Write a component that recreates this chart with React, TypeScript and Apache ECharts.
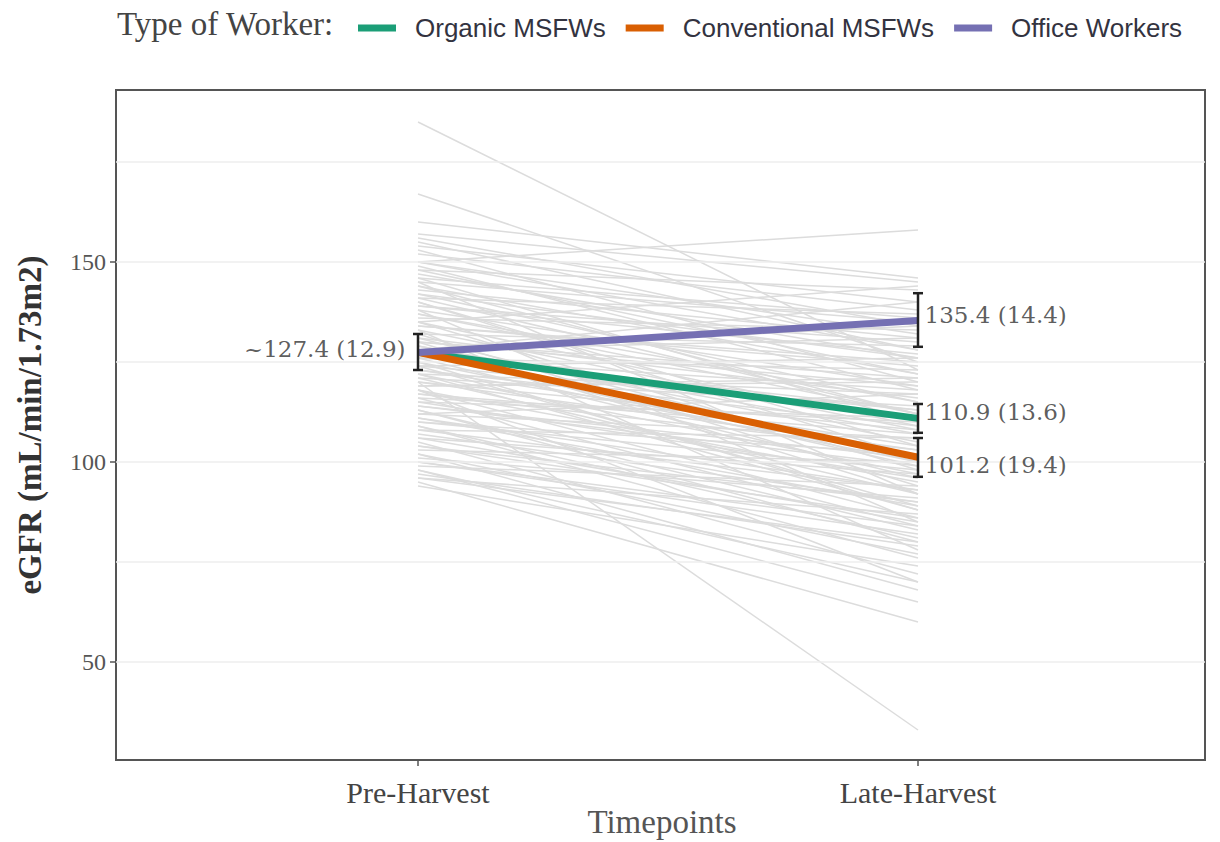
import React, { useEffect, useRef } from "react";
import * as echarts from "echarts";

const categories = ["Pre-Harvest", "Late-Harvest"];
const groupNames = ["Organic MSFWs", "Conventional MSFWs", "Office Workers"];
const groupColors = ["#1b9e77", "#d95f02", "#7570b3"];
const preMeans = [127.4, 127.4, 127.4];
const lateMeans = [110.9, 101.2, 135.4];

const errX = [1, 2, 2, 2];
const errLow = [123.0, 128.8, 107.3, 96.3];
const errHigh = [132.0, 142.2, 114.5, 106.0];

const labelX = [1, 2, 2, 2];
const labelY = [127.4, 135.4, 110.9, 101.2];
const labelText = ["~127.4 (12.9)", "135.4 (14.4)", "110.9 (13.6)", "101.2 (19.4)"];

const yTicks = [50, 100, 150];
const gridValues = [50, 75, 100, 125, 150, 175];

const subjectPre = [
  185, 167, 160, 150, 157, 156, 155, 154, 153, 152, 150, 149, 148, 147, 146, 145,
  144, 143, 142, 141, 140, 139, 138, 137, 136, 135, 134, 133, 132, 131, 130, 130,
  129, 128, 127, 126, 126, 125, 124, 123, 122, 121, 120, 120, 119, 118, 117, 116,
  115, 114, 113, 112, 111, 110, 109, 108, 107, 106, 105, 104, 103, 102, 101, 100,
  99, 98, 97, 96, 95, 94, 138, 145, 133, 128, 135, 124, 131, 118, 141, 122,
  150, 148, 146, 144, 142, 140, 139, 137, 135, 134, 132, 130, 129, 128, 127, 126,
  125, 124, 123, 122, 121, 120, 119, 118, 117, 116, 115, 114, 113, 112, 111, 110,
  109, 108, 106, 104, 102, 100, 98, 96,
];
const subjectLate = [
  123, 125, 146, 158, 145, 134, 128, 140, 120, 138, 132, 118, 143, 126, 110, 135,
  122, 131, 115, 137, 104, 127, 119, 112, 133, 98, 124, 108, 129, 116, 92, 121,
  105, 134, 113, 96, 118, 100, 126, 109, 88, 114, 33, 103, 121, 95, 107, 84,
  111, 99, 80, 117, 93, 102, 76, 106, 90, 97, 72, 86, 100, 68, 91, 82,
  94, 65, 79, 87, 60, 74, 85, 92, 78, 140, 144, 89, 100, 70, 112, 97,
  128, 122, 136, 112, 126, 101, 130, 115, 109, 125, 94, 119, 107, 131, 99, 123,
  88, 113, 104, 117, 92, 108, 120, 86, 103, 110, 96, 101, 83, 106, 89, 98,
  81, 93, 85, 90, 77, 84, 70, 80,
];

export default function App() {
  const ref = useRef<HTMLDivElement>(null);
  useEffect(() => {
    if (!ref.current) return;
    const chart = echarts.init(ref.current, undefined, { renderer: "svg" });

    const graySeries = subjectPre.map((p, i) => ({
      type: "line",
      data: [
        [1, p],
        [2, subjectLate[i]],
      ],
      symbol: "none",
      silent: true,
      z: 2,
      lineStyle: { color: "#dcdcdc", width: 1.5 },
    }));

    const mainSeries = groupNames.map((name, i) => ({
      type: "line",
      name,
      data: [
        [1, preMeans[i]],
        [2, lateMeans[i]],
      ],
      symbol: "none",
      z: 5,
      color: groupColors[i],
      lineStyle: { color: groupColors[i], width: 7 },
    }));

    const labelCfg = [
      { position: "left", distance: 12, offset: [0, -3] },
      { position: "right", distance: 6, offset: [0, -5] },
      { position: "right", distance: 6, offset: [0, -6] },
      { position: "right", distance: 6, offset: [0, 8] },
    ];

    const option: any = {
      animation: false,
      backgroundColor: "#ffffff",
      grid: {
        left: 116,
        right: 15,
        top: 90,
        bottom: 82,
        outerBoundsMode: "none",
        containLabel: false,
        show: true,
        borderColor: "#555555",
        borderWidth: 2,
        backgroundColor: "transparent",
      },
      legend: {
        data: groupNames,
        left: 353,
        top: 10,
        icon: "rect",
        itemWidth: 38,
        itemHeight: 7,
        itemGap: 20,
        textStyle: {
          fontFamily: "Liberation Sans",
          fontSize: 26,
          color: "#33333f",
          padding: [0, 0, 0, 14],
        },
      },
      graphic: [
        {
          type: "text",
          left: 117,
          top: 7,
          style: {
            text: "Type of Worker:",
            font: '33px "Liberation Serif"',
            fill: "#444444",
          },
        },
        {
          type: "text",
          x: 662,
          y: 822,
          style: {
            text: "Timepoints",
            font: '33px "Liberation Serif"',
            fill: "#555555",
            align: "center",
            verticalAlign: "middle",
          },
        },
      ],
      xAxis: {
        type: "value",
        min: 0.396,
        max: 2.574,
        axisLine: { show: false },
        splitLine: { show: false },
        axisTick: {
          show: true,
          customValues: [1, 2],
          length: 6,
          lineStyle: { color: "#555555", width: 1.5 },
        },
        axisLabel: {
          customValues: [1, 2],
          formatter: (v: number) => categories[Math.round(v) - 1] ?? "",
          fontFamily: "Liberation Serif",
          fontSize: 30,
          color: "#444444",
          margin: 17,
        },
      },
      yAxis: {
        type: "value",
        min: 25.5,
        max: 193,
        axisLine: { show: false },
        splitLine: { show: false },
        axisTick: {
          show: true,
          customValues: yTicks,
          length: 6,
          lineStyle: { color: "#555555", width: 1.5 },
        },
        axisLabel: {
          customValues: yTicks,
          fontFamily: "Liberation Serif",
          fontSize: 24,
          color: "#555555",
          margin: 10,
        },
        name: "eGFR (mL/min/1.73m2)",
        nameLocation: "middle",
        nameGap: 70,
        nameTextStyle: {
          fontFamily: "Liberation Serif",
          fontSize: 33,
          fontWeight: "bold",
          color: "#333333",
        },
      },
      series: [
        {
          type: "line",
          data: [],
          silent: true,
          z: 1,
          markLine: {
            silent: true,
            symbol: "none",
            label: { show: false },
            lineStyle: { color: "#eeeeee", width: 1.5, type: "solid" },
            data: gridValues.map((v) => ({ yAxis: v })),
          },
        },
        ...graySeries,
        ...mainSeries,
        {
          type: "custom",
          z: 8,
          silent: true,
          data: errX.map((x, i) => [x, errLow[i], errHigh[i]]),
          renderItem: (params: any, api: any) => {
            const x = api.value(0);
            const lo = api.coord([x, api.value(1)]);
            const hi = api.coord([x, api.value(2)]);
            const w = 5;
            const st = { stroke: "#222222", lineWidth: 2.5 };
            return {
              type: "group",
              children: [
                { type: "line", shape: { x1: lo[0], y1: lo[1], x2: hi[0], y2: hi[1] }, style: st },
                { type: "line", shape: { x1: lo[0] - w, y1: lo[1], x2: lo[0] + w, y2: lo[1] }, style: st },
                { type: "line", shape: { x1: hi[0] - w, y1: hi[1], x2: hi[0] + w, y2: hi[1] }, style: st },
              ],
            };
          },
        },
        {
          type: "scatter",
          z: 10,
          silent: true,
          symbolSize: 1,
          itemStyle: { color: "rgba(0,0,0,0)" },
          data: labelX.map((x, i) => ({
            value: [x, labelY[i]],
            label: {
              show: true,
              formatter: labelText[i],
              position: labelCfg[i].position,
              distance: labelCfg[i].distance,
              offset: labelCfg[i].offset,
              fontFamily: "DejaVu Serif",
              fontSize: 23,
              color: "#333333",
            },
          })),
        },
      ],
    };
    chart.setOption(option);
    return () => chart.dispose();
  }, []);
  return (
    <div
      ref={ref}
      style={{ position: "fixed", left: 0, top: 0, width: 1220, height: 842, background: "#fff" }}
    />
  );
}
